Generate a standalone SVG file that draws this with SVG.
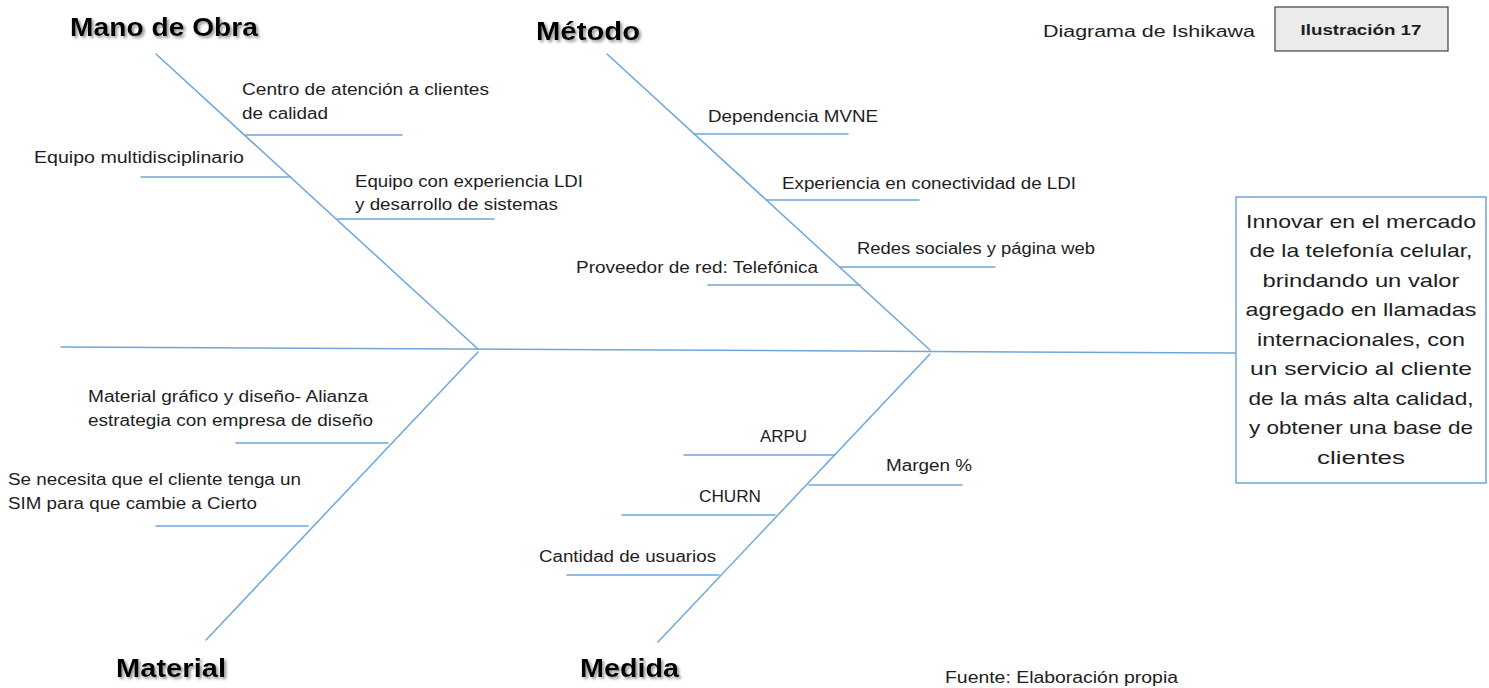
<svg xmlns="http://www.w3.org/2000/svg" width="1489" height="688" viewBox="0 0 1489 688">
<defs>
<style>
.ln{stroke:#6fa6da;stroke-width:1.5;fill:none;stroke-linecap:round}
.t{font-family:"Liberation Sans",Arial,sans-serif;font-size:16px;fill:#1e1e1e}
.tt{font-family:"Liberation Sans",Arial,sans-serif;font-size:26px;font-weight:bold;fill:#000;filter:url(#sh)}
.bx{font-family:"Liberation Sans",Arial,sans-serif;font-size:19px;fill:#1e1e1e;text-anchor:middle}
</style>
<filter id="sh" x="-10%" y="-30%" width="130%" height="180%">
<feDropShadow dx="2" dy="2" stdDeviation="1.5" flood-color="#777" flood-opacity="0.8"/>
</filter>
</defs>
<rect width="1489" height="688" fill="#fff"/>

<g id="connectors">
<line class="ln" x1="61" y1="347" x2="1235" y2="353"/>
<line class="ln" x1="156" y1="54" x2="478" y2="349"/>
<line class="ln" x1="246" y1="135" x2="402" y2="135"/>
<line class="ln" x1="141" y1="177" x2="290" y2="177"/>
<line class="ln" x1="338" y1="219" x2="494" y2="219"/>
<line class="ln" x1="607" y1="54" x2="930" y2="350"/>
<line class="ln" x1="694" y1="134" x2="848" y2="134"/>
<line class="ln" x1="766" y1="200" x2="919" y2="200"/>
<line class="ln" x1="840" y1="267" x2="995" y2="267"/>
<line class="ln" x1="708" y1="285" x2="860" y2="285"/>
<line class="ln" x1="478" y1="352" x2="206" y2="640"/>
<line class="ln" x1="236" y1="443" x2="388" y2="443"/>
<line class="ln" x1="156" y1="526" x2="308" y2="526"/>
<line class="ln" x1="930" y1="354" x2="658" y2="642"/>
<line class="ln" x1="684" y1="455" x2="835" y2="455"/>
<line class="ln" x1="809" y1="485" x2="962" y2="485"/>
<line class="ln" x1="622" y1="515" x2="775" y2="515"/>
<line class="ln" x1="567" y1="575" x2="719" y2="575"/>
</g>

<g id="mano-de-obra">
<text class="tt" x="70" y="36" textLength="188" lengthAdjust="spacingAndGlyphs">Mano de Obra</text>
<text class="t" x="242" y="95" textLength="247" lengthAdjust="spacingAndGlyphs">Centro de atención a clientes</text>
<text class="t" x="242" y="119" textLength="86" lengthAdjust="spacingAndGlyphs">de calidad</text>
<text class="t" x="34" y="163" textLength="210" lengthAdjust="spacingAndGlyphs">Equipo multidisciplinario</text>
<text class="t" x="355" y="187" textLength="228" lengthAdjust="spacingAndGlyphs">Equipo con experiencia LDI</text>
<text class="t" x="355" y="210" textLength="203" lengthAdjust="spacingAndGlyphs">y desarrollo de sistemas</text>
</g>

<g id="metodo">
<text class="tt" x="536" y="40" textLength="104" lengthAdjust="spacingAndGlyphs">Método</text>
<text class="t" x="708" y="122" textLength="170" lengthAdjust="spacingAndGlyphs">Dependencia MVNE</text>
<text class="t" x="782" y="189" textLength="294" lengthAdjust="spacingAndGlyphs">Experiencia en conectividad de LDI</text>
<text class="t" x="857" y="254" textLength="238" lengthAdjust="spacingAndGlyphs">Redes sociales y página web</text>
<text class="t" x="576" y="273" textLength="242" lengthAdjust="spacingAndGlyphs">Proveedor de red: Telefónica</text>
</g>

<g id="material">
<text class="tt" x="116" y="677" textLength="110" lengthAdjust="spacingAndGlyphs">Material</text>
<text class="t" x="88" y="402" textLength="280" lengthAdjust="spacingAndGlyphs">Material gráfico y diseño- Alianza</text>
<text class="t" x="88" y="426" textLength="285" lengthAdjust="spacingAndGlyphs">estrategia con empresa de diseño</text>
<text class="t" x="8" y="485" textLength="293" lengthAdjust="spacingAndGlyphs">Se necesita que el cliente tenga un</text>
<text class="t" x="8" y="509" textLength="249" lengthAdjust="spacingAndGlyphs">SIM para que cambie a Cierto</text>
</g>

<g id="medida">
<text class="tt" x="580" y="677" textLength="99" lengthAdjust="spacingAndGlyphs">Medida</text>
<text class="t" x="760" y="442" textLength="47" lengthAdjust="spacingAndGlyphs">ARPU</text>
<text class="t" x="886" y="471" textLength="86" lengthAdjust="spacingAndGlyphs">Margen %</text>
<text class="t" x="699" y="502" textLength="62" lengthAdjust="spacingAndGlyphs">CHURN</text>
<text class="t" x="539" y="562" textLength="177" lengthAdjust="spacingAndGlyphs">Cantidad de usuarios</text>
</g>

<g id="efecto">
<rect x="1236" y="197" width="250" height="286" fill="#fff" stroke="#6fa6da" stroke-width="1.5"/>
<text class="bx" x="1361" y="228" textLength="230" lengthAdjust="spacingAndGlyphs">Innovar en el mercado</text>
<text class="bx" x="1361" y="257" textLength="223" lengthAdjust="spacingAndGlyphs">de la telefonía celular,</text>
<text class="bx" x="1361" y="287" textLength="197" lengthAdjust="spacingAndGlyphs">brindando un valor</text>
<text class="bx" x="1361" y="316" textLength="231" lengthAdjust="spacingAndGlyphs">agregado en llamadas</text>
<text class="bx" x="1361" y="346" textLength="208" lengthAdjust="spacingAndGlyphs">internacionales, con</text>
<text class="bx" x="1361" y="375" textLength="222" lengthAdjust="spacingAndGlyphs">un servicio al cliente</text>
<text class="bx" x="1361" y="405" textLength="225" lengthAdjust="spacingAndGlyphs">de la más alta calidad,</text>
<text class="bx" x="1361" y="434" textLength="224" lengthAdjust="spacingAndGlyphs">y obtener una base de</text>
<text class="bx" x="1361" y="464" textLength="88" lengthAdjust="spacingAndGlyphs">clientes</text>
</g>

<g id="titulo">
<text class="t" x="1043" y="37" font-size="17" textLength="212" lengthAdjust="spacingAndGlyphs">Diagrama de Ishikawa</text>
<rect x="1275" y="7" width="173" height="44" fill="#ebebeb" stroke="#404040" stroke-width="1.2"/>
<text x="1361" y="35" font-family="Liberation Sans,Arial,sans-serif" font-size="15" font-weight="bold" fill="#1e1e1e" text-anchor="middle" textLength="121" lengthAdjust="spacingAndGlyphs">Ilustración 17</text>
</g>

<g id="fuente">
<text class="t" x="945" y="683" textLength="233" lengthAdjust="spacingAndGlyphs">Fuente: Elaboración propia</text>
</g>
</svg>
